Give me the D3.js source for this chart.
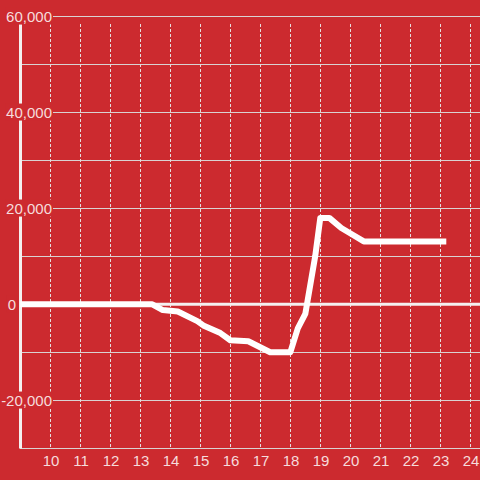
<!DOCTYPE html>
<html><head><meta charset="utf-8">
<script src="https://cdn.jsdelivr.net/npm/d3@7"></script>
<style>html,body{margin:0;padding:0;background:#cc2a2f;}svg{display:block;}</style>
</head><body><svg id="c" width="480" height="480"></svg>
<script>
// data: hour of day, value
const hours  = [9.0, 13.4, 13.75, 14.25, 14.9, 15.1, 15.67, 16.0, 16.6, 17.33, 18.0, 18.25, 18.5, 18.83, 19.0, 19.3, 19.7, 20.05, 20.45, 23.2];
const values = [0, 0, -1200, -1500, -3500, -4400, -6000, -7500, -7700, -10000, -10000, -5000, -2000, 10000, 18000, 18000, 15900, 14600, 13100, 13100];
const xTicks = [10, 11, 12, 13, 14, 15, 16, 17, 18, 19, 20, 21, 22, 23, 24];
const yGrid = [-20000, -10000, 10000, 20000, 30000, 40000, 50000, 60000];
const yLabels = [-20000, 0, 20000, 40000, 60000];

const W = 480, H = 480;
const bg = "#cc2a2f";
const svg = d3.select("#c");
const x = d3.scaleLinear().domain([9, 24]).range([20.3, 470.3]);
const y = d3.scaleLinear().domain([-30000, 60000]).range([448.3, 16.3]);
const plotTop = 24, plotBottom = 448.5;
const crisp = v => Math.round(v) + 0.5;

svg.append("rect").attr("width", W).attr("height", H).attr("fill", bg);

// horizontal gridlines
svg.append("g").selectAll("line").data(yGrid).join("line")
  .attr("x1", 20).attr("x2", W)
  .attr("y1", d => crisp(y(d) - 0.5)).attr("y2", d => crisp(y(d) - 0.5))
  .attr("stroke", "#d9d2d2").attr("stroke-width", 1);

// vertical dotted gridlines
svg.append("g").selectAll("line").data(xTicks).join("line")
  .attr("x1", d => crisp(x(d) - 0.5)).attr("x2", d => crisp(x(d) - 0.5))
  .attr("y1", plotTop).attr("y2", plotBottom)
  .attr("stroke", "#e6dede").attr("stroke-width", 1).attr("stroke-dasharray", "3,2");

// bottom axis line
svg.append("line").attr("x1", 20).attr("x2", W)
  .attr("y1", plotBottom).attr("y2", plotBottom)
  .attr("stroke", "#d9d2d2").attr("stroke-width", 1);

// zero line
svg.append("line").attr("x1", 20).attr("x2", W)
  .attr("y1", y(0)).attr("y2", y(0))
  .attr("stroke", "#f4f0f0").attr("stroke-width", 3);

// y axis line
svg.append("line").attr("x1", 20.5).attr("x2", 20.5)
  .attr("y1", plotTop).attr("y2", plotBottom)
  .attr("stroke", "#f4f0f0").attr("stroke-width", 3);

// data line
const pts = hours.map((h, i) => [h, values[i]]);
svg.append("path").datum(pts)
  .attr("d", d3.line().x(d => x(d[0])).y(d => y(d[1])))
  .attr("fill", "none").attr("stroke", "#ffffff").attr("stroke-width", 6)
  .attr("stroke-linejoin", "round").attr("stroke-linecap", "butt");

// x labels
svg.append("g").selectAll("text").data(xTicks).join("text")
  .attr("x", d => x(d) + 0.8).attr("y", 466)
  .attr("text-anchor", "middle")
  .attr("font-family", "'Liberation Sans', Arial, sans-serif").attr("font-size", 15)
  .attr("fill", "#f6dcdc")
  .text(d => d);

// y labels with background boxes
const fmt = d3.format(",");
const yl = svg.append("g").selectAll("g").data(yLabels).join("g");
yl.each(function(d) {
  const g = d3.select(this);
  const t = g.append("text")
    .attr("x", d === 0 ? 16 : 52).attr("y", y(d)).attr("dy", "0.35em")
    .attr("text-anchor", "end")
    .attr("font-family", "'Liberation Sans', Arial, sans-serif").attr("font-size", 15)
    .attr("fill", "#f6dcdc")
    .text(d < 0 ? "-" + fmt(-d) : fmt(d));
  const b = t.node().getBBox();
  g.insert("rect", "text").attr("x", b.x - 1).attr("y", b.y).attr("width", b.width + 2).attr("height", b.height)
    .attr("fill", bg);
});
</script></body></html>
